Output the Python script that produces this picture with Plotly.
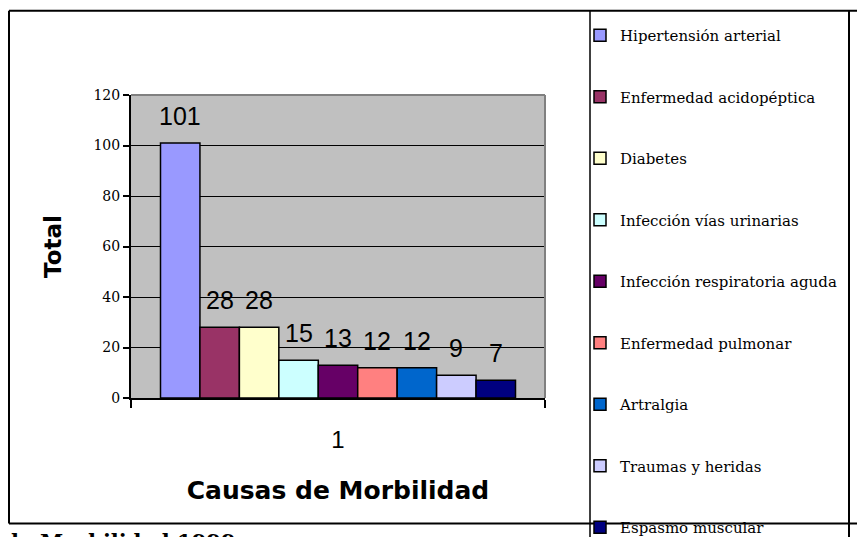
import plotly.graph_objects as go

# ---- data ----
causas = ["Hipertensión arterial", "Enfermedad acidopéptica", "Diabetes",
          "Infección vías urinarias", "Infección respiratoria aguda",
          "Enfermedad pulmonar", "Artralgia", "Traumas y heridas",
          "Espasmo muscular"]
totales = [101, 28, 28, 15, 13, 12, 12, 9, 7]
colores = ["#9999FF", "#993366", "#FFFFCC", "#CCFFFF", "#660066",
           "#FF8080", "#0066CC", "#CCCCFF", "#000080"]
categoria = ["1"]
y_ticks = [0, 20, 40, 60, 80, 100, 120]

W, H = 865, 537
OFF = 8  # page body margin of the html page
L, R, T, B = 131, 545, 94, 398  # plot area in page pixels


def px(x):
    return (x - L) / (R - L)


def py(y):
    return (B - y) / (B - T)


bargap = 1 - 355 / (R - L)

fig = go.Figure()
for i, (c, v, col) in enumerate(zip(causas, totales, colores)):
    fig.add_trace(go.Bar(
        x=categoria, y=[v], name=c, legendgroup=c,
        marker=dict(color=col, line=dict(color="black", width=1.5)),
        hoverinfo="name+y",
    ))

# value labels
n = len(totales)
bw = (1 - bargap) / n
annotations = []
for i, v in enumerate(totales):
    xc = -0.5 + bargap / 2 + (i + 0.5) * bw
    annotations.append(dict(
        x=xc, y=v, xref="x", yref="y", text=str(v), showarrow=False,
        yanchor="bottom", yshift=11,
        font=dict(family="Liberation Sans, Arial", size=25, color="black")))

# cut-off caption at the bottom
annotations.append(dict(
    x=px(8.5), y=py(527), xref="paper", yref="paper", xanchor="left",
    yanchor="top", showarrow=False, text="<b>la Morbilidad 1999</b>",
    font=dict(family="DejaVu Serif", size=21, color="black")))

line_k = dict(color="black", width=2)
TOP = 9.5
shapes = [
    dict(type="line", xref="paper", yref="paper", x0=px(9), y0=py(TOP), x1=px(880), y1=py(TOP), line=line_k),
    dict(type="line", xref="paper", yref="paper", x0=px(9), y0=py(524), x1=px(880), y1=py(524), line=line_k),
    dict(type="line", xref="paper", yref="paper", x0=px(9), y0=py(TOP), x1=px(9), y1=py(524), line=line_k),
    dict(type="line", xref="paper", yref="paper", x0=px(590), y0=py(TOP), x1=px(590), y1=py(560), line=dict(color="black", width=1.5)),
    dict(type="line", xref="paper", yref="paper", x0=px(849), y0=py(TOP), x1=px(849), y1=py(560), line=dict(color="black", width=2)),
    dict(type="line", xref="paper", yref="paper", x0=0, y0=1, x1=1, y1=1, line=dict(color="#808080", width=2)),
    dict(type="line", xref="paper", yref="paper", x0=1, y0=1, x1=1, y1=0, line=dict(color="#808080", width=2)),
]

fig.update_layout(
    width=W, height=H,
    margin=dict(l=L - OFF, r=W - (R - OFF), t=T - OFF, b=H - (B - OFF), pad=0),
    paper_bgcolor="white", plot_bgcolor="#C0C0C0",
    barmode="group", bargap=bargap, bargroupgap=0,
    showlegend=True,
    legend=dict(
        x=px(580), y=py(19), xanchor="left", yanchor="top",
        font=dict(family="DejaVu Serif", size=15, color="black"),
        bgcolor="rgba(0,0,0,0)", borderwidth=0,
        tracegroupgap=39, traceorder="grouped", maxheight=2000,
    ),
    annotations=annotations,
    shapes=shapes,
    xaxis=dict(
        type="category", showline=True, linecolor="black", linewidth=2,
        ticks="outside", tickson="boundaries", ticklen=8, tickwidth=2, tickcolor="black",
        tickfont=dict(family="Liberation Sans, Arial", size=24, color="black"),
        ticklabelstandoff=19,
        showgrid=False,
        title=dict(text="<b>Causas de Morbilidad</b>", standoff=30,
                   font=dict(family="DejaVu Sans", size=25, color="black")),
    ),
    yaxis=dict(
        range=[0, 120], tickvals=y_ticks, showline=True, linecolor="black", linewidth=2,
        ticks="outside", ticklen=6, tickwidth=2, tickcolor="black",
        tickfont=dict(family="DejaVu Serif", size=14, color="black"),
        showgrid=True, gridcolor="black", gridwidth=1, zeroline=False,
        title=dict(text="<b>Total</b>", standoff=25,
                   font=dict(family="DejaVu Sans", size=23, color="black")),
    ),
)

fig.write_html("out.html")
